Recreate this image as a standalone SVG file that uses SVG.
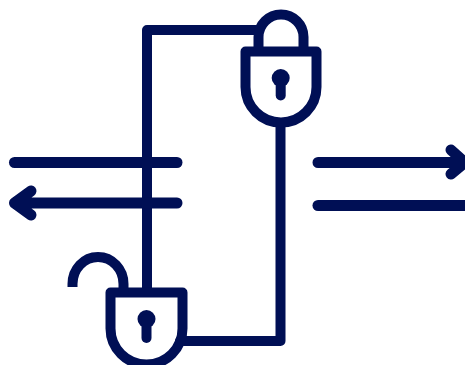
<svg xmlns="http://www.w3.org/2000/svg" width="465" height="365" viewBox="0 0 465 365">
<style>
.s{fill:none;stroke:#000f55;stroke-width:10;stroke-linecap:round;stroke-linejoin:round}
.w{stroke-width:11}
.b{stroke-linecap:butt}
.k{fill:#000f55}
</style>
<rect width="465" height="365" fill="#fff"/>
<g id="connectors">
<path class="s" d="M258 30H147V292"/>
<path class="s" d="M280.500 125V341H180"/>
<path class="s w" d="M14.500 162.500H177"/>
<path class="s w" d="M14.500 203H177M31 191L14.500 203L31 215"/>
<path class="s w" d="M318 162.500H464M451 150L465 162.500L451 174"/>
<path class="s w" d="M318 205.500H470"/>
</g>
<g id="lock-closed">
<path class="s" d="M245.500 51.500H316.500V87A35.500 35.500 0 0 1 245.500 87Z"/>
<path class="s b" d="M258.500 51V37A22.500 22.500 0 0 1 303.500 37V51"/>
<circle class="k" cx="280.700" cy="78" r="9"/>
<path class="s" d="M280.700 78V95.500"/>
</g>
<g id="lock-open">
<path class="s" d="M110.500 292.500H182.500V328.500A36 36 0 0 1 110.500 328.500Z"/>
<path class="s b" d="M72.500 287V284A25.500 27 0 0 1 123.500 284V292"/>
<circle class="k" cx="146.500" cy="319" r="9"/>
<path class="s" d="M146.500 319V338"/>
</g>
</svg>
